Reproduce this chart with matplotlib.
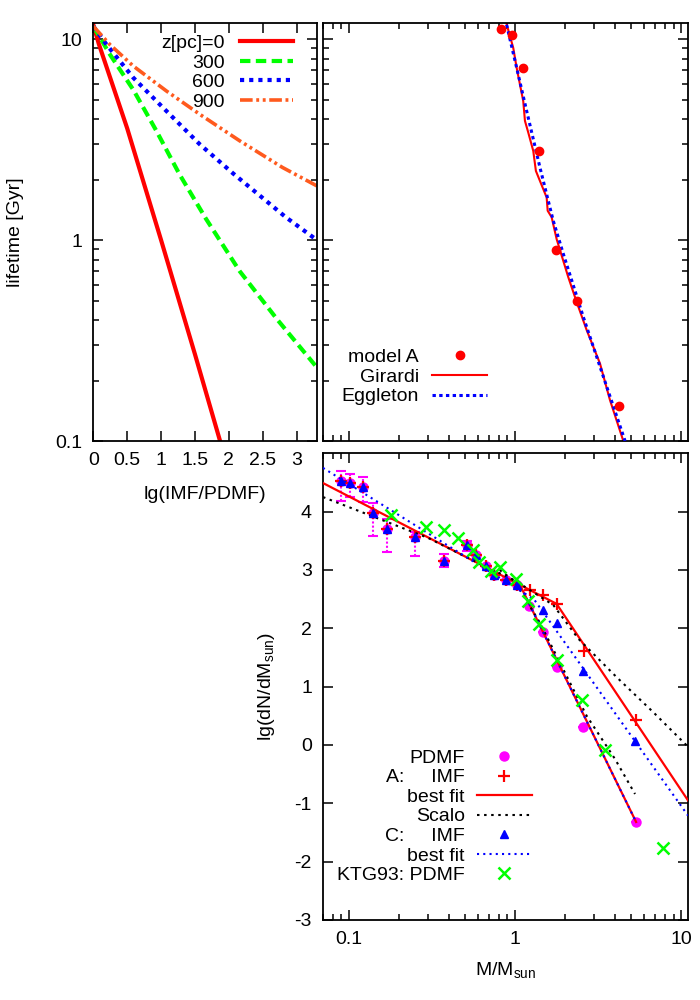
import numpy as np
import matplotlib
matplotlib.use('Agg')
import matplotlib.pyplot as plt
from matplotlib.ticker import FixedLocator, FixedFormatter, NullFormatter, LogLocator, MultipleLocator
from matplotlib.lines import Line2D

plt.rcParams['font.family'] = ['Liberation Sans', 'DejaVu Sans']
plt.rcParams['mathtext.fontset'] = 'custom'
plt.rcParams['mathtext.rm'] = 'Liberation Sans'
plt.rcParams['mathtext.it'] = 'Liberation Sans:italic'
FS = 14
plt.rcParams['font.size'] = FS

# ---------------- data: left panel (lifetime vs lg(IMF/PDMF)) ----------------
z0_x = [0.0, 0.08, 0.5, 1.0, 1.5, 1.87, 1.95]
z0_t = [11.8, 9.5, 3.6, 1.0, 0.27, 0.1, 0.08]
z300_x = [0.0, 0.245, 0.59, 0.93, 1.27, 1.66, 2.16, 2.72, 3.3]
z300_t = [11.6, 8.4, 5.6, 3.5, 2.13, 1.28, 0.70, 0.40, 0.232]
z600_x = [0.0, 0.196, 0.59, 0.98, 1.57, 2.06, 2.84, 3.3]
z600_t = [11.6, 9.4, 6.43, 4.74, 3.0, 2.15, 1.30, 1.0]
z900_x = [0.0, 0.245, 0.59, 1.08, 1.57, 2.16, 2.79, 3.3]
z900_t = [11.6, 9.4, 7.35, 5.52, 4.23, 3.12, 2.30, 1.86]

# ---------------- data: top-right panel (lifetime vs mass) ----------------
modelA_m = [0.83, 0.955, 1.12, 1.40, 1.77, 2.35, 4.23]
modelA_t = [11.2, 10.5, 7.2, 2.78, 0.89, 0.50, 0.149]
girardi_m = [0.891, 0.977, 1.024, 1.122, 1.149, 1.203, 1.289, 1.337, 1.552, 1.574,
             1.663, 1.783, 2.095, 2.354, 2.704, 3.25, 3.73, 4.49]
girardi_t = [11.9, 9.05, 7.21, 4.92, 3.92, 3.43, 2.78, 2.21, 1.63, 1.40,
             1.30, 1.01, 0.653, 0.491, 0.356, 0.243, 0.160, 0.1]
eggleton_m = [0.891, 1.024, 1.176, 1.414, 1.70, 1.954, 2.58, 3.57, 4.60]
eggleton_t = [11.8, 7.21, 4.40, 2.30, 1.25, 0.855, 0.414, 0.186, 0.1]

# ---------------- data: bottom panel (lg dN/dM vs mass) ----------------
pdmf_m = [0.0904, 0.1014, 0.121, 0.140, 0.171, 0.252, 0.373, 0.512, 0.580,
          0.666, 0.750, 0.879, 1.024, 1.22, 1.47, 1.78, 2.58, 5.36]
pdmf_v = [4.53, 4.49, 4.42, 3.98, 3.70, 3.56, 3.16, 3.42, 3.25,
          3.06, 2.91, 2.82, 2.74, 2.39, 1.94, 1.33, 0.30, -1.32]
pdmf_hi = [4.70, 4.65, 4.60, 4.15, 3.88, 3.65, 3.28, 3.50, 3.25,
           3.06, 2.91, 2.82, 2.74, 2.39, 1.94, 1.33, 0.30, -1.32]
pdmf_lo = [4.19, 4.25, 4.17, 3.58, 3.31, 3.24, 3.05, 3.33, 3.25,
           3.06, 2.91, 2.82, 2.74, 2.39, 1.94, 1.33, 0.30, -1.32]
A_imf_m = [0.0904, 0.1014, 0.121, 0.140, 0.171, 0.252, 0.373, 0.512, 0.580,
           0.666, 0.750, 0.879, 1.024, 1.23, 1.47, 1.78, 2.62, 5.36]
A_imf_v = [4.53, 4.49, 4.42, 3.98, 3.70, 3.56, 3.16, 3.42, 3.25,
           3.06, 2.91, 2.82, 2.74, 2.65, 2.57, 2.42, 1.61, 0.42]
A_fit_m = [0.07, 1.78, 11.0]
A_fit_v = [4.49, 2.42, -0.95]
A_pfit_m = [1.07, 5.36]
A_pfit_v = [2.75, -1.32]
scalo_imf_m = [0.07, 0.3, 0.59, 1.0, 1.7, 2.41, 4.10, 6.81, 11.0]
scalo_imf_v = [4.25, 3.55, 3.13, 2.82, 2.40, 1.82, 1.16, 0.56, -0.03]
scalo_pdmf_m = [0.81, 1.0, 1.41, 2.70, 4.0, 5.28]
scalo_pdmf_v = [3.0, 2.80, 2.10, 0.50, -0.24, -0.84]
C_imf_m = [0.0904, 0.1014, 0.121, 0.140, 0.171, 0.252, 0.373, 0.512, 0.580,
           0.666, 0.750, 0.879, 1.024, 1.47, 1.80, 2.58, 5.28]
C_imf_v = [4.53, 4.49, 4.42, 3.98, 3.70, 3.56, 3.16, 3.42, 3.25,
           3.06, 2.91, 2.82, 2.74, 2.32, 2.09, 1.27, 0.07]
C_fit_m = [0.07, 1.3, 11.0]
C_fit_v = [4.75, 2.50, -1.21]
C_pfit_m = [1.13, 5.36]
C_pfit_v = [2.61, -1.32]
ktg_m = [0.179, 0.291, 0.373, 0.452, 0.556, 0.607, 0.717, 0.812, 1.014,
         1.20, 1.395, 1.78, 2.52, 3.48, 7.82]
ktg_v = [3.95, 3.74, 3.69, 3.55, 3.34, 3.14, 2.98, 3.05, 2.85,
         2.47, 2.08, 1.46, 0.77, -0.08, -1.77]

RED = '#ff0000'
GREEN = '#00ff00'
BLUE = '#0000ff'
ORANGE = '#ff5a1e'
MAG = '#ff00ff'

fig = plt.figure(figsize=(7, 10), dpi=100)
W, H = 700.0, 1000.0

def axbox(x0, y0, x1, y1):
    return [x0 / W, 1 - y1 / H, (x1 - x0) / W, (y1 - y0) / H]

axL = fig.add_axes(axbox(93.3, 23.3, 317, 441))
axR = fig.add_axes(axbox(323, 23.3, 688, 441), sharey=axL)
axB = fig.add_axes(axbox(323, 453.3, 688, 920), sharex=axR)

for ax in (axL, axR, axB):
    for s in ax.spines.values():
        s.set_linewidth(1.3)
    ax.tick_params(which='major', direction='in', length=7, width=1.1,
                   top=True, right=True, pad=8, labelsize=FS)
    ax.tick_params(which='minor', direction='in', length=4, width=1.1,
                   top=True, right=True)

# ---------------- left panel ----------------
axL.plot(z0_x, z0_t, color=RED, lw=3, label='z[pc]=0')
axL.plot(z300_x, z300_t, color=GREEN, lw=3, dashes=(2.5, 1.3), label='300')
axL.plot(z600_x, z600_t, color=BLUE, lw=3, dashes=(1, 1.2), label='600')
axL.plot(z900_x, z900_t, color=ORANGE, lw=2.6, dashes=(3.5, 1, 0.8, 1, 0.8, 1), label='900')
axL.set_yscale('log')
axL.set_ylim(0.1, 12)
axL.set_xlim(0, 3.3)
axL.xaxis.set_major_locator(MultipleLocator(0.5))
axL.xaxis.set_major_formatter(plt.FuncFormatter(lambda v, p: '%g' % v))
axL.yaxis.set_major_locator(FixedLocator([0.1, 1, 10]))
axL.yaxis.set_major_formatter(FixedFormatter(['0.1', '1', '10']))
axL.yaxis.set_minor_locator(LogLocator(base=10, subs=np.arange(2, 10)))
axL.yaxis.set_minor_formatter(NullFormatter())
axL.set_ylabel('lifetime [Gyr]', fontsize=FS)
axL.yaxis.set_label_coords(-0.31, 0.5)
axL.set_xlabel('lg(IMF/PDMF)', fontsize=FS)
axL.xaxis.set_label_coords(0.5, -0.108)
axL.legend(loc='upper right', bbox_to_anchor=(0.893, 0.973), markerfirst=False,
           frameon=False, handlelength=2.75, handletextpad=0.75, labelspacing=0.1,
           borderpad=0, borderaxespad=0, fontsize=FS)

# ---------------- top-right panel ----------------
axR.plot(girardi_m, girardi_t, color=RED, lw=1.5, label='Girardi', zorder=2)
axR.plot(eggleton_m, eggleton_t, color=BLUE, lw=2.2, dashes=(1.1, 1.1), label='Eggleton', zorder=3)
axR.plot(modelA_m, modelA_t, 'o', color=RED, ms=6, label='model A', zorder=4)
axR.set_xscale('log')
axR.set_xlim(0.07, 11)
axR.tick_params(labelleft=False, labelbottom=False)
h, l = axR.get_legend_handles_labels()
order = [2, 0, 1]
axR.legend([h[i] for i in order], [l[i] for i in order], loc='upper right',
           bbox_to_anchor=(0.449, 0.221), markerfirst=False, frameon=False,
           handlelength=2.8, handletextpad=0.7, labelspacing=0.1,
           borderpad=0, borderaxespad=0, fontsize=FS, numpoints=1)

# ---------------- bottom panel ----------------
yerr = [np.array(pdmf_v) - np.array(pdmf_lo), np.array(pdmf_hi) - np.array(pdmf_v)]
eb = axB.errorbar(pdmf_m, pdmf_v, yerr=yerr, fmt='none', ecolor=MAG, elinewidth=1.5,
                  capsize=3.5, capthick=1.5, zorder=2)
eb[2][0].set_linestyle((0, (1, 1)))
axB.plot(pdmf_m, pdmf_v, 'o', color=MAG, ms=6.5, zorder=3)
axB.plot(A_imf_m, A_imf_v, '+', color=RED, ms=8, mew=1.6, zorder=4)
axB.plot(A_fit_m, A_fit_v, color=RED, lw=1.6, zorder=4)
axB.plot(A_pfit_m, A_pfit_v, color=RED, lw=1.6, zorder=4)
axB.plot(scalo_imf_m, scalo_imf_v, color='black', lw=1.5, dashes=(1.2, 2.2), zorder=4)
axB.plot(scalo_pdmf_m, scalo_pdmf_v, color='black', lw=1.5, dashes=(1.2, 2.2), zorder=4)
axB.plot(C_imf_m, C_imf_v, '^', color=BLUE, ms=6, zorder=5)
axB.plot(C_fit_m, C_fit_v, color=BLUE, lw=1.5, dashes=(1, 2), zorder=5)
axB.plot(C_pfit_m, C_pfit_v, color=BLUE, lw=1.5, dashes=(1, 2), zorder=5)
axB.plot(ktg_m, ktg_v, 'x', color=GREEN, ms=8, mew=1.8, zorder=6)
axB.set_xscale('log')
axB.set_ylim(-3, 5)
axB.xaxis.set_major_locator(FixedLocator([0.1, 1, 10]))
axB.xaxis.set_major_formatter(FixedFormatter(['0.1', '1', '10']))
axB.xaxis.set_minor_locator(LogLocator(base=10, subs=np.arange(2, 10)))
axB.xaxis.set_minor_formatter(NullFormatter())
axB.yaxis.set_major_locator(FixedLocator(list(range(-3, 5))))
axB.yaxis.set_major_formatter(plt.FuncFormatter(lambda v, p: '%d' % v))
axB.set_xlabel(r'M/M$_{\rm sun}$', fontsize=FS)
axB.xaxis.set_label_coords(0.5, -0.085)
axB.set_ylabel(r'lg(dN/dM$_{\rm sun}$)', fontsize=FS)
axB.yaxis.set_label_coords(-0.126, 0.5)

handles = [
    Line2D([], [], ls='none', marker='o', color=MAG, ms=6.5),
    Line2D([], [], ls='none', marker='+', color=RED, ms=8, mew=1.6),
    Line2D([], [], color=RED, lw=1.6),
    Line2D([], [], color='black', lw=1.5, dashes=(1.2, 2.2)),
    Line2D([], [], ls='none', marker='^', color=BLUE, ms=6),
    Line2D([], [], color=BLUE, lw=1.5, dashes=(1, 2)),
    Line2D([], [], ls='none', marker='x', color=GREEN, ms=8, mew=1.8),
]
labels = ['PDMF', 'A:     IMF', 'best fit', 'Scalo', 'C:     IMF', 'best fit', 'KTG93: PDMF']
axB.legend(handles, labels, loc='upper right', bbox_to_anchor=(0.573, 0.366),
           markerfirst=False, frameon=False, handlelength=2.85, handletextpad=0.62,
           labelspacing=0.1, borderpad=0, borderaxespad=0, fontsize=FS, numpoints=1)

fig.savefig('out.png', dpi=100)
